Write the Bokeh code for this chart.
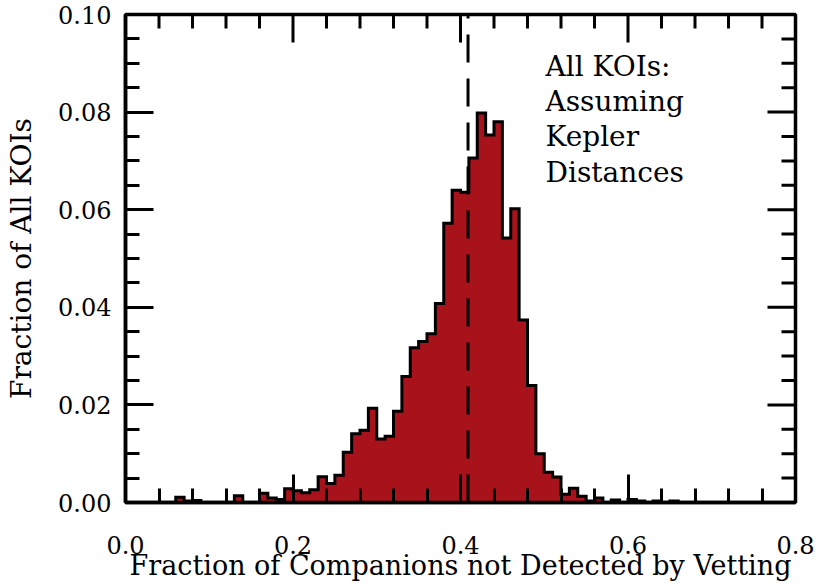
import numpy as np
from bokeh.plotting import figure
from bokeh.models import Range1d, FixedTicker, PrintfTickFormatter
from bokeh.core.properties import value
from bokeh.embed import file_html
from bokeh.resources import INLINE

# ---------------- data ----------------
bin_start = 0.0
bin_width = 0.01
# fraction of KOIs in each 0.01-wide bin, from 0.00 to 0.80
fraction_of_kois = [
    0.0, 0.0, 0.0, 0.0, 0.0, 0.0, 0.0011, 0.0003, 0.0004, 0.0,
    0.0, 0.0, 0.0, 0.0014, 0.0, 0.0, 0.0019, 0.0009, 0.0006, 0.0028,
    0.0024, 0.0020, 0.0026, 0.0053, 0.0039, 0.0056, 0.0103, 0.0141, 0.0148, 0.0193,
    0.0130, 0.0136, 0.0187, 0.0258, 0.0317, 0.0330, 0.0346, 0.0408, 0.0572, 0.0640,
    0.0636, 0.0706, 0.0798, 0.0753, 0.0780, 0.0542, 0.0602, 0.0374, 0.0240, 0.0100,
    0.0062, 0.0052, 0.0017, 0.0029, 0.0013, 0.0003, 0.0009, 0.0, 0.0005, 0.0,
    0.0006, 0.0003, 0.0, 0.0003, 0.0, 0.0003, 0.0, 0.0, 0.0, 0.0,
    0.0, 0.0, 0.0, 0.0, 0.0, 0.0, 0.0, 0.0, 0.0, 0.0,
]
median_fraction = 0.409

x_major_ticks = [0.0, 0.2, 0.4, 0.6, 0.8]
x_minor_ticks = [0.04, 0.08, 0.12, 0.16, 0.24, 0.28, 0.32, 0.36, 0.44, 0.48,
                 0.52, 0.56, 0.64, 0.68, 0.72, 0.76]
y_major_ticks = [0.0, 0.02, 0.04, 0.06, 0.08, 0.10]
y_minor_ticks = [0.005, 0.01, 0.015, 0.025, 0.03, 0.035, 0.045, 0.05, 0.055,
                 0.065, 0.07, 0.075, 0.085, 0.09, 0.095]

x_label = "Fraction of Companions not Detected by Vetting"
y_label = "Fraction of All KOIs"
annotation_lines = ["All KOIs:", "Assuming", "Kepler", "Distances"]

# ---------------- layout / style ----------------
W, H = 827, 583
B_LEFT, B_RIGHT, B_TOP, B_BOTTOM = 125, 32, 14, 79
FRAME_W = W - B_LEFT - B_RIGHT
FRAME_H = H - B_TOP - B_BOTTOM
X0, X1 = 0.0, 0.8
Y0, Y1 = 0.0, 0.1
FONT = "DejaVu Serif"
RED = "#a8121b"
MAJ_LEN, MIN_LEN = 28, 14

n = len(fraction_of_kois)
left = [bin_start + i * bin_width for i in range(n)]
step_x = left + [left[-1] + bin_width]
step_y = fraction_of_kois + [fraction_of_kois[-1]]

p = figure(width=W, height=H, output_backend="svg", toolbar_location=None,
           x_range=Range1d(X0, X1), y_range=Range1d(Y0, Y1),
           min_border_left=B_LEFT, min_border_right=B_RIGHT,
           min_border_top=B_TOP, min_border_bottom=B_BOTTOM,
           background_fill_color="white", border_fill_color="white")
p.outline_line_color = "black"
p.outline_line_width = 3.5
p.xgrid.visible = False
p.ygrid.visible = False

# filled histogram + black step outline
p.varea_step(x=step_x, y1=[0.0] * len(step_x), y2=step_y, step_mode="after", fill_color=RED)
p.step(x=step_x, y=step_y, mode="after", line_color="black", line_width=3, line_join="miter")

# dashed vertical line (drawn bottom -> top)
p.segment(x0=[median_fraction], y0=[Y0], x1=[median_fraction], y1=[Y1],
          line_color="black", line_width=3, line_dash="28 16")

# mirrored ticks on the top and right edges
dy = (Y1 - Y0) / FRAME_H
dx = (X1 - X0) / FRAME_W
top_x = x_major_ticks + x_minor_ticks
top_len = [MAJ_LEN] * len(x_major_ticks) + [MIN_LEN] * len(x_minor_ticks)
p.segment(x0=top_x, y0=[Y1] * len(top_x), x1=top_x, y1=[Y1 - l * dy for l in top_len],
          line_color="black", line_width=3)
right_y = y_major_ticks + y_minor_ticks
right_len = [MAJ_LEN] * len(y_major_ticks) + [MIN_LEN] * len(y_minor_ticks)
p.segment(x0=[X1] * len(right_y), y0=right_y, x1=[X1 - l * dx for l in right_len], y1=right_y,
          line_color="black", line_width=3)

# annotation
ann_x = [0.5015] * len(annotation_lines)
ann_y = [0.0928 - i * 0.00724 for i in range(len(annotation_lines))]
p.text(x=ann_x, y=ann_y, text=annotation_lines, text_font=value(FONT),
       text_font_size="28px", text_baseline="top", text_align="left", text_color="black")

# axes
xa = p.xaxis[0]
xa.ticker = FixedTicker(ticks=x_major_ticks, minor_ticks=x_minor_ticks)
xa.formatter = PrintfTickFormatter(format="%.1f")
ya = p.yaxis[0]
ya.ticker = FixedTicker(ticks=y_major_ticks, minor_ticks=y_minor_ticks)
ya.formatter = PrintfTickFormatter(format="%.2f")

for ax in (xa, ya):
    ax.axis_line_width = 3.5
    ax.axis_line_color = "black"
    ax.major_tick_line_width = 3
    ax.minor_tick_line_width = 3
    ax.major_tick_in = MAJ_LEN
    ax.major_tick_out = 0
    ax.minor_tick_in = MIN_LEN
    ax.minor_tick_out = 0
    ax.major_label_text_font = FONT
    ax.major_label_text_font_size = "24px"
    ax.major_label_text_color = "black"
    ax.axis_label_text_font = FONT
    ax.axis_label_text_font_style = "normal"
    ax.axis_label_text_color = "black"

xa.axis_label = x_label
xa.axis_label_text_font_size = "27px"
xa.axis_label_text_line_height = 0.85
xa.major_label_standoff = 33
xa.axis_label_standoff = -7
ya.axis_label = y_label
ya.axis_label_text_font_size = "28px"
ya.major_label_standoff = 14
ya.axis_label_standoff = 17

open("out.html", "w").write(file_html(p, INLINE))
